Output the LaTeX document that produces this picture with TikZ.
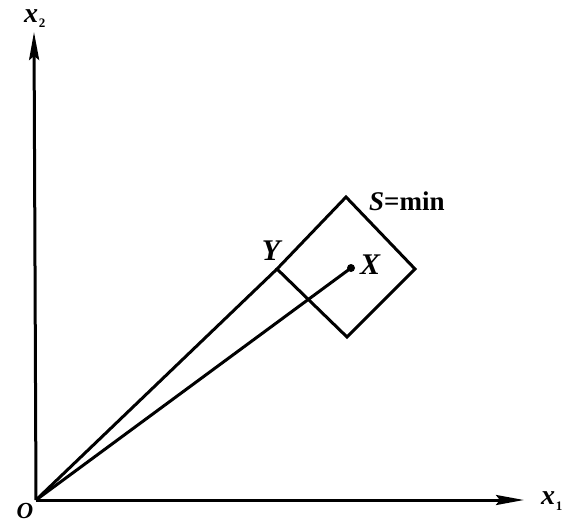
\documentclass[tikz,border=0pt]{standalone}
\usepackage{fontspec}
\setmainfont{Liberation Serif}
\usetikzlibrary{arrows.meta}
\begin{document}
\begin{tikzpicture}[x=1pt,y=-1pt,
  axis/.style={line width=3pt,-{Stealth[length=28pt,width=10pt,inset=4pt]}},
  ln/.style={line width=3pt},
  lbl/.style={font=\fontsize{28}{28}\selectfont\bfseries\itshape,inner sep=0pt},
  sub/.style={font=\fontsize{13}{13}\selectfont\bfseries,inner sep=0pt}]
\useasboundingbox (0,0) rectangle (577,524);
\coordinate (O) at (36,500);
\coordinate (xe) at (524,500);
\coordinate (ye) at (34,32);
\draw[axis] (O) -- (xe);
\draw[axis] (O) -- (ye);
\coordinate (T) at (346,197);
\coordinate (R) at (415,269);
\coordinate (B) at (347,337);
\coordinate (L) at (277,269);
\draw[ln,line join=miter] (T) -- (R) -- (B) -- (L) -- cycle;
\coordinate (X) at (351,268);
\draw[ln] (O) -- (L);
\draw[ln] (O) -- (X);
\fill (X) circle (4pt);
\node[lbl] (lx1) at (548,498) {x};
\node[sub] (lx1s) at (559,506) {1};
\node[lbl] (lx2) at (31,16) {x};
\node[sub] (lx2s) at (42,23) {2};
\node[lbl,font=\fontsize{23}{23}\selectfont\bfseries\itshape] (lo) at (25,511) {O};
\node[lbl,font=\fontsize{30}{30}\selectfont\bfseries\itshape] (ly) at (271,251) {Y};
\node[lbl,font=\fontsize{30}{30}\selectfont\bfseries\itshape] (lX) at (370,265) {X};
\node[font=\fontsize{27}{27}\selectfont\bfseries,inner sep=0pt,anchor=base west] (ls) at (369,210) {\textit{S}=min};
\end{tikzpicture}
\end{document}
